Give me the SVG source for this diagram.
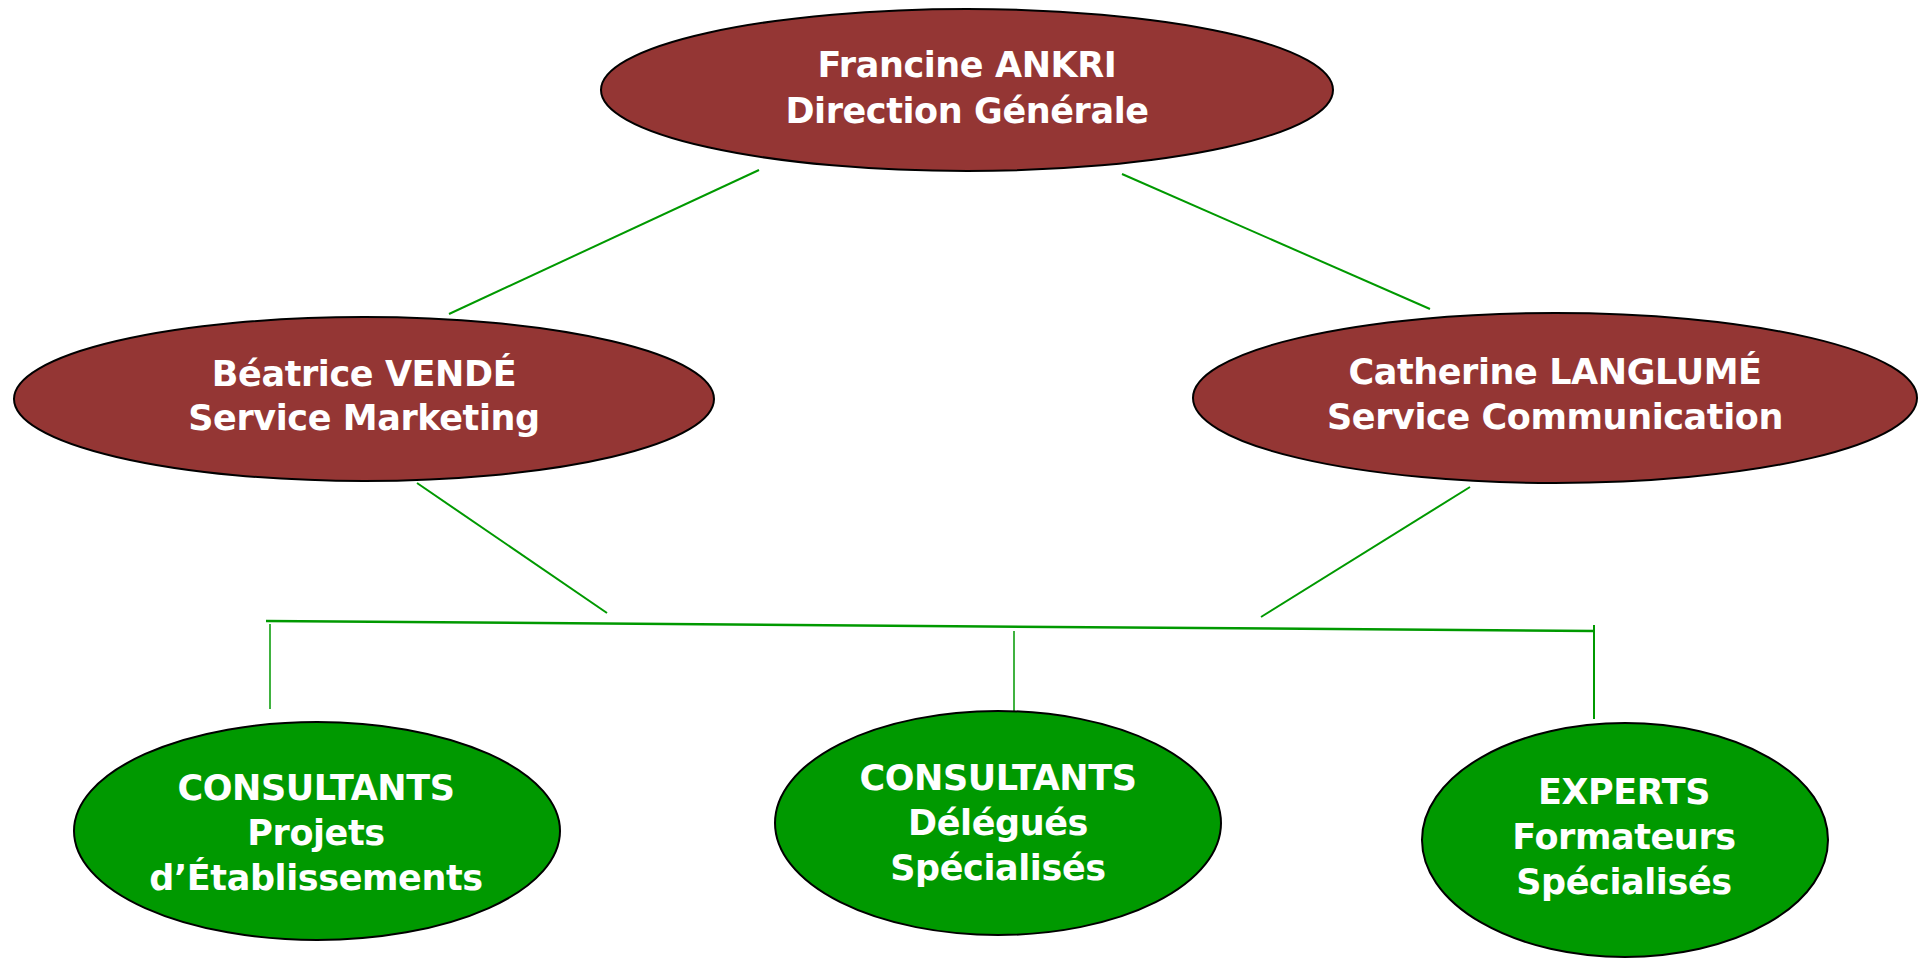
<svg xmlns="http://www.w3.org/2000/svg" width="1919" height="958" viewBox="0 0 1919 958">
<style>
.boss{fill:#943634;stroke:#000;stroke-width:2}
.team{fill:#009900;stroke:#000;stroke-width:2}
.lbl{font-family:"DejaVu Sans",Verdana,sans-serif;font-weight:bold;font-size:35px;letter-spacing:-0.4px;fill:#fff;text-anchor:middle}
#connectors line{stroke:#009900;stroke-width:2;fill:none}
</style>
<rect width="1919" height="958" fill="#fff"/>
<g id="connectors">
<line x1="759" y1="170" x2="449" y2="314"/>
<line x1="1122" y1="174" x2="1430" y2="309"/>
<line x1="417" y1="483" x2="607" y2="613"/>
<line x1="1470" y1="487" x2="1261" y2="617"/>
<line x1="266" y1="621" x2="1594" y2="631" style="stroke-width:2.5"/>
<line x1="270" y1="624" x2="270" y2="709" style="stroke-width:1.5"/>
<line x1="1014" y1="631" x2="1014" y2="713" style="stroke-width:1.5"/>
<line x1="1594" y1="625" x2="1594" y2="719"/>
</g>
<g id="ankri">
<ellipse class="boss" cx="967" cy="90" rx="366" ry="81"/>
<text class="lbl" x="967" y="77">Francine ANKRI</text>
<text class="lbl" x="967" y="123">Direction Générale</text>
</g>
<g id="vende">
<ellipse class="boss" cx="364" cy="399" rx="350" ry="82"/>
<text class="lbl" x="364" y="386">Béatrice VENDÉ</text>
<text class="lbl" x="364" y="430">Service Marketing</text>
</g>
<g id="langlume">
<ellipse class="boss" cx="1555" cy="398" rx="362" ry="85"/>
<text class="lbl" x="1555" y="384">Catherine LANGLUMÉ</text>
<text class="lbl" x="1555" y="429">Service Communication</text>
</g>
<g id="consultants-projets">
<ellipse class="team" cx="317" cy="831" rx="243" ry="109"/>
<text class="lbl" x="316" y="800">CONSULTANTS</text>
<text class="lbl" x="316" y="845">Projets</text>
<text class="lbl" x="316" y="890">d’Établissements</text>
</g>
<g id="consultants-delegues">
<ellipse class="team" cx="998" cy="823" rx="223" ry="112"/>
<text class="lbl" x="998" y="790">CONSULTANTS</text>
<text class="lbl" x="998" y="835">Délégués</text>
<text class="lbl" x="998" y="880">Spécialisés</text>
</g>
<g id="experts">
<ellipse class="team" cx="1625" cy="840" rx="203" ry="117"/>
<text class="lbl" x="1624" y="804">EXPERTS</text>
<text class="lbl" x="1624" y="849">Formateurs</text>
<text class="lbl" x="1624" y="894">Spécialisés</text>
</g>
</svg>
